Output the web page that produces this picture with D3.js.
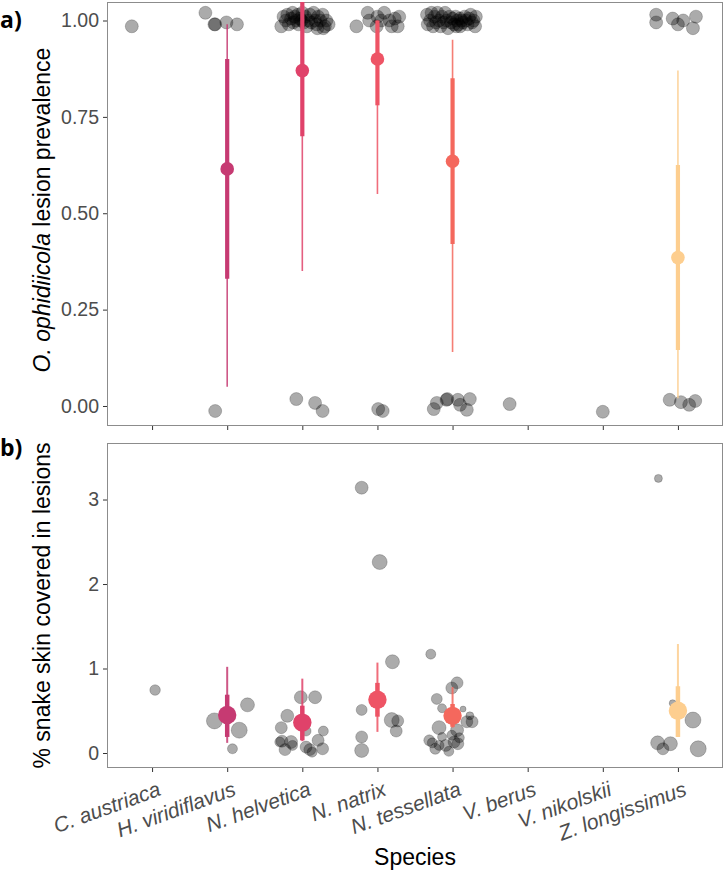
<!DOCTYPE html>
<html><head><meta charset="utf-8">
<script src="https://cdn.jsdelivr.net/npm/d3@7"></script>
<style>body{margin:0;background:#fff}svg{display:block}</style>
</head><body>
<script>
// ---------- DATA ----------
const species = ["C. austriaca","H. viridiflavus","N. helvetica","N. natrix","N. tessellata","V. berus","V. nikolskii","Z. longissimus"];
const speciesColors = {"H. viridiflavus":"#C63A72","N. helvetica":"#E0426A","N. natrix":"#EE5465","N. tessellata":"#F4685D","Z. longissimus":"#FDCE8F"};
const prevTicks = [0,0.25,0.5,0.75,1];
const prevTickLabels = ["0.00","0.25","0.50","0.75","1.00"];
const coverTicks = [0,1,2,3];
const coverTickLabels = ["0","1","2","3"];

// prevalence raw observations: [species, jitter (category units), value]
const prevObs = [
 ["C. austriaca",-0.27,0.985],
 ["H. viridiflavus",-0.29,1.02],["H. viridiflavus",-0.17,0.99],["H. viridiflavus",-0.16,0.99],["H. viridiflavus",-0.01,0.995],["H. viridiflavus",0.13,0.99],["H. viridiflavus",-0.16,-0.013],
 ["N. helvetica",-0.28,0.985],["N. helvetica",-0.25,1.01],["N. helvetica",-0.22,1.0],["N. helvetica",-0.2,1.015],["N. helvetica",-0.18,0.99],["N. helvetica",-0.15,1.005],["N. helvetica",-0.13,1.02],["N. helvetica",-0.12,0.995],["N. helvetica",-0.1,1.01],["N. helvetica",-0.08,1.0],["N. helvetica",-0.06,1.015],["N. helvetica",-0.05,0.99],["N. helvetica",-0.03,1.005],["N. helvetica",-0.01,1.0],["N. helvetica",0.0,1.02],["N. helvetica",0.02,0.995],["N. helvetica",0.04,1.01],["N. helvetica",0.06,0.985],["N. helvetica",0.08,1.0],["N. helvetica",0.1,1.015],["N. helvetica",0.12,0.995],["N. helvetica",0.15,1.02],["N. helvetica",0.17,1.0],["N. helvetica",0.19,0.99],["N. helvetica",0.21,1.01],["N. helvetica",0.24,1.0],["N. helvetica",0.27,1.015],["N. helvetica",0.3,0.985],["N. helvetica",0.32,1.0],["N. helvetica",0.35,0.99],["N. helvetica",0.2,0.98],["N. helvetica",0.28,0.98],
 ["N. helvetica",-0.08,0.018],["N. helvetica",0.17,0.008],["N. helvetica",0.27,-0.013],
 ["N. natrix",-0.28,0.985],["N. natrix",-0.13,1.02],["N. natrix",-0.11,1.0],["N. natrix",-0.01,0.985],["N. natrix",0.0,1.01],["N. natrix",0.05,1.0],["N. natrix",0.09,1.02],["N. natrix",0.16,1.0],["N. natrix",0.19,0.985],["N. natrix",0.27,0.985],["N. natrix",0.29,1.01],["N. natrix",0.23,1.005],
 ["N. natrix",0.01,-0.008],["N. natrix",0.07,-0.013],
 ["N. tessellata",-0.34,1.015],["N. tessellata",-0.33,0.99],["N. tessellata",-0.3,1.0],["N. tessellata",-0.28,1.02],["N. tessellata",-0.26,0.985],["N. tessellata",-0.24,1.01],["N. tessellata",-0.22,0.995],["N. tessellata",-0.2,1.02],["N. tessellata",-0.18,1.0],["N. tessellata",-0.16,0.985],["N. tessellata",-0.14,1.01],["N. tessellata",-0.12,0.995],["N. tessellata",-0.1,1.02],["N. tessellata",-0.08,1.0],["N. tessellata",-0.06,0.98],["N. tessellata",-0.04,1.01],["N. tessellata",-0.02,0.995],["N. tessellata",0.0,1.005],["N. tessellata",0.02,0.99],["N. tessellata",0.04,1.01],["N. tessellata",0.06,1.0],["N. tessellata",0.08,0.99],["N. tessellata",0.1,1.005],["N. tessellata",0.12,1.0],["N. tessellata",0.14,0.995],["N. tessellata",0.16,1.01],["N. tessellata",0.18,1.0],["N. tessellata",0.2,0.99],["N. tessellata",0.22,1.005],["N. tessellata",0.24,1.015],["N. tessellata",0.26,0.995],["N. tessellata",0.28,1.0],["N. tessellata",0.3,0.985],["N. tessellata",0.31,1.01],["N. tessellata",0.1,0.985],["N. tessellata",0.05,0.985],
 ["N. tessellata",-0.25,-0.008],["N. tessellata",-0.21,0.008],["N. tessellata",-0.08,0.016],["N. tessellata",-0.07,0.018],["N. tessellata",0.07,0.016],["N. tessellata",0.1,0.003],["N. tessellata",0.23,0.018],["N. tessellata",0.19,-0.01],
 ["V. berus",-0.24,0.005],
 ["V. nikolskii",0.0,-0.015],
 ["Z. longissimus",-0.29,1.015],["Z. longissimus",-0.29,0.995],["Z. longissimus",-0.07,1.005],["Z. longissimus",0.07,1.0],["Z. longissimus",0.0,0.99],["Z. longissimus",0.24,1.01],["Z. longissimus",0.2,0.98],
 ["Z. longissimus",-0.11,0.016],["Z. longissimus",0.04,0.01],["Z. longissimus",0.15,0.003],["Z. longissimus",0.23,0.013]
];

// prevalence estimates: species, mean, inner lo, inner hi, outer lo, outer hi
const prevSpecies = ["H. viridiflavus","N. helvetica","N. natrix","N. tessellata","Z. longissimus"];
const prevMean    = [0.615,0.87,0.90,0.635,0.385];
const prevInnerLo = [0.33,0.70,0.78,0.42,0.145];
const prevInnerHi = [0.90,1.06,1.0,0.85,0.625];
const prevOuterLo = [0.05,0.35,0.55,0.14,0.02];
const prevOuterHi = [0.99,1.06,1.0,0.95,0.87];

// % skin covered raw observations: [species, jitter, value, weight]
const coverObs = [
 ["C. austriaca",0.04,0.745,28],
 ["H. viridiflavus",-0.17,0.38,64],["H. viridiflavus",0.27,0.57,49],["H. viridiflavus",0.16,0.27,64],["H. viridiflavus",0.07,0.05,25],
 ["N. helvetica",-0.02,0.66,42],["N. helvetica",0.17,0.66,42],["N. helvetica",-0.2,0.44,42],["N. helvetica",-0.28,0.30,36],["N. helvetica",0.05,0.26,25],["N. helvetica",0.28,0.26,25],["N. helvetica",0.21,0.15,36],["N. helvetica",-0.27,0.14,36],["N. helvetica",-0.3,0.13,25],["N. helvetica",-0.15,0.13,42],["N. helvetica",-0.23,0.04,36],["N. helvetica",-0.13,0.09,25],["N. helvetica",0.05,0.07,36],["N. helvetica",0.1,0.04,36],["N. helvetica",0.27,0.05,36],["N. helvetica",0.13,0.01,25],
 ["N. natrix",-0.21,3.14,42],["N. natrix",0.03,2.26,56],["N. natrix",0.2,1.08,49],["N. natrix",-0.21,0.51,30],["N. natrix",0.19,0.39,56],["N. natrix",0.27,0.38,36],["N. natrix",0.25,0.26,36],["N. natrix",-0.21,0.19,36],["N. natrix",-0.21,0.03,49],
 ["N. tessellata",-0.29,1.17,25],["N. tessellata",0.06,0.83,36],["N. tessellata",-0.01,0.77,36],["N. tessellata",-0.21,0.64,30],["N. tessellata",-0.14,0.53,20],["N. tessellata",0.14,0.52,9],["N. tessellata",0.23,0.44,16],["N. tessellata",-0.18,0.30,49],["N. tessellata",0.06,0.27,42],["N. tessellata",0.19,0.37,36],["N. tessellata",0.26,0.37,36],["N. tessellata",-0.31,0.15,30],["N. tessellata",-0.27,0.12,25],["N. tessellata",-0.14,0.19,20],["N. tessellata",-0.09,0.09,36],["N. tessellata",-0.23,0.05,30],["N. tessellata",-0.05,0.02,25],["N. tessellata",0.02,0.13,36],["N. tessellata",0.07,0.11,36],["N. tessellata",-0.01,0.21,25],["N. tessellata",-0.18,0.09,25],["N. tessellata",0.09,0.18,25],
 ["Z. longissimus",-0.26,3.25,16],["Z. longissimus",-0.07,0.59,12],["Z. longissimus",0.2,0.39,64],["Z. longissimus",-0.27,0.12,49],["Z. longissimus",-0.2,0.05,36],["Z. longissimus",-0.1,0.11,49],["Z. longissimus",0.27,0.05,64]
];

const coverSpecies = ["H. viridiflavus","N. helvetica","N. natrix","N. tessellata","Z. longissimus"];
const coverMean    = [0.45,0.36,0.63,0.44,0.50];
const coverInnerLo = [0.19,0.15,0.43,0.31,0.19];
const coverInnerHi = [0.69,0.56,0.83,0.58,0.79];
const coverOuterLo = [0.12,0.14,0.25,0.30,0.19];
const coverOuterHi = [1.02,0.88,1.07,0.78,1.29];

// ---------- LAYOUT ----------
const W = 725, H = 872;
const L = 107, R = 723;
const topP = {t:2, b:426};
const botP = {t:443, b:768};
const FONT = "'Liberation Sans', Arial, sans-serif";

const svg = d3.select("body").append("svg").attr("width",W).attr("height",H)
  .style("font-family",FONT);

const x = d3.scalePoint().domain(species).range([L,R]).padding(0.6);
const step = x.step();
const yTop = d3.scaleLinear().domain([-0.0519,1.048]).range([topP.b,topP.t]);
const yBot = d3.scaleLinear().domain([-0.1775,3.669]).range([botP.b,botP.t]);
const rScale = d3.scaleSqrt().domain([0,100]).range([0,10]);

function panel(y, p, ticks, labels, id){
  const g = svg.append("g");
  svg.append("defs").append("clipPath").attr("id",id).append("rect")
    .attr("x",L).attr("y",p.t).attr("width",R-L).attr("height",p.b-p.t);
  const ya = g.append("g").attr("transform",`translate(${L},0)`)
    .call(d3.axisLeft(y).tickValues(ticks).tickFormat((d,i)=>labels[i]).tickSize(4).tickPadding(4));
  ya.select(".domain").remove();
  ya.selectAll("line").attr("stroke","#333").attr("stroke-width",1);
  ya.selectAll("text").attr("fill","#4d4d4d").style("font-size","19.5px").style("font-family",FONT);
  const xa = g.append("g").attr("transform",`translate(0,${p.b})`)
    .call(d3.axisBottom(x).tickSize(4).tickFormat(""));
  xa.select(".domain").remove();
  xa.selectAll("line").attr("stroke","#333").attr("stroke-width",1);
  g.append("rect").attr("x",L+0.5).attr("y",p.t+0.5).attr("width",R-L-1).attr("height",p.b-p.t-1)
    .attr("fill","none").attr("stroke","#8c8c8c").attr("stroke-width",1);
  return svg.append("g").attr("clip-path",`url(#${id})`);
}

// ---- top panel
const gTop = panel(yTop, topP, prevTicks, prevTickLabels, "clipTop");
gTop.selectAll("circle.obs").data(prevObs).join("circle")
  .attr("cx",d=>x(d[0])+d[1]*step).attr("cy",d=>yTop(d[2])).attr("r",6.5)
  .attr("fill","rgba(0,0,0,0.33)").attr("stroke","rgba(0,0,0,0.25)").attr("stroke-width",0.8);
prevSpecies.forEach((s,i)=>{
  const c = speciesColors[s], cx = x(s);
  gTop.append("line").attr("x1",cx).attr("x2",cx).attr("y1",yTop(prevOuterLo[i])).attr("y2",yTop(prevOuterHi[i]))
    .attr("stroke",c).attr("stroke-width",1.6).attr("opacity",0.85);
  gTop.append("line").attr("x1",cx).attr("x2",cx).attr("y1",yTop(prevInnerLo[i])).attr("y2",yTop(prevInnerHi[i]))
    .attr("stroke",c).attr("stroke-width",4.2);
  gTop.append("circle").attr("cx",cx).attr("cy",yTop(prevMean[i])).attr("r",6.8).attr("fill",c);
});

// ---- bottom panel
const gBot = panel(yBot, botP, coverTicks, coverTickLabels, "clipBot");
gBot.selectAll("circle.obs").data(coverObs).join("circle")
  .attr("cx",d=>x(d[0])+d[1]*step).attr("cy",d=>yBot(d[2])).attr("r",d=>rScale(d[3]))
  .attr("fill","rgba(0,0,0,0.33)").attr("stroke","rgba(0,0,0,0.25)").attr("stroke-width",0.8);
coverSpecies.forEach((s,i)=>{
  const c = speciesColors[s], cx = x(s);
  gBot.append("line").attr("x1",cx).attr("x2",cx).attr("y1",yBot(coverOuterLo[i])).attr("y2",yBot(coverOuterHi[i]))
    .attr("stroke",c).attr("stroke-width",2).attr("opacity",0.85);
  gBot.append("line").attr("x1",cx).attr("x2",cx).attr("y1",yBot(coverInnerLo[i])).attr("y2",yBot(coverInnerHi[i]))
    .attr("stroke",c).attr("stroke-width",4.5);
  gBot.append("circle").attr("cx",cx).attr("cy",yBot(coverMean[i])).attr("r",9.2).attr("fill",c);
});

// x tick labels
svg.append("g").selectAll("text").data(species).join("text")
  .attr("transform",d=>`translate(${x(d)+5},${botP.b+13}) rotate(-20)`)
  .attr("text-anchor","end").attr("dy","0.7em")
  .style("font-style","italic").style("font-size","21px").attr("fill","#4d4d4d")
  .text(d=>d);

// axis titles
const t1 = svg.append("text").attr("transform",`translate(50,${(topP.t+topP.b)/2 - 4}) rotate(-90)`)
  .attr("text-anchor","middle").style("font-size","23px").attr("fill","#000");
t1.append("tspan").style("font-style","italic").text("O. ophidiicola");
t1.append("tspan").text(" lesion prevalence");
svg.append("text").attr("transform",`translate(50,${(botP.t+botP.b)/2}) rotate(-90)`)
  .attr("text-anchor","middle").style("font-size","23px").attr("fill","#000")
  .text("% snake skin covered in lesions");
svg.append("text").attr("x",(L+R)/2).attr("y",865).attr("text-anchor","middle")
  .style("font-size","23px").attr("fill","#000").text("Species");

// panel tags
svg.append("text").attr("x",0).attr("y",28).style("font-family","'Open Sans', sans-serif")
  .style("font-weight","bold").style("font-size","23px").text("a)");
svg.append("text").attr("x",0).attr("y",456).style("font-family","'Open Sans', sans-serif")
  .style("font-weight","bold").style("font-size","23px").text("b)");
</script>
</body></html>
